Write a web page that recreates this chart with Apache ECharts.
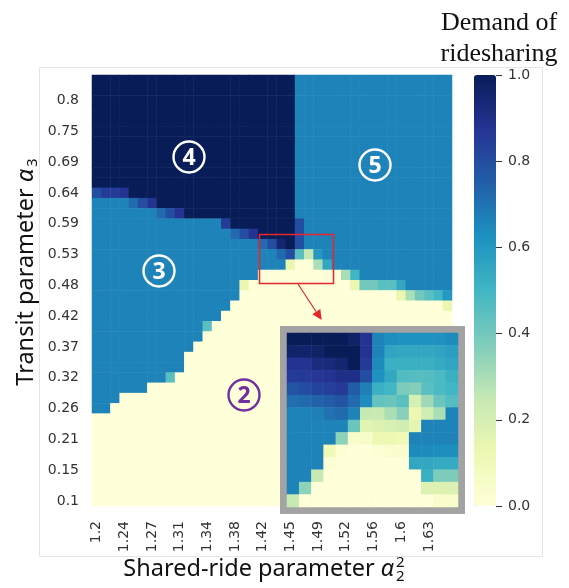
<!DOCTYPE html>
<html>
<head>
<meta charset="utf-8">
<script src="https://cdn.jsdelivr.net/npm/echarts@6/dist/echarts.min.js"></script>
<style>
  html, body { margin: 0; padding: 0; background: #fff; }
  #chart { width: 569px; height: 588px; }
</style>
</head>
<body>
<div id="chart"></div>
<script>
// tick labels
const xTickLabels = ['1.2', '1.24', '1.27', '1.31', '1.34', '1.38', '1.42', '1.45', '1.49', '1.52', '1.56', '1.6', '1.63']
const yTickLabels = ['0.1', '0.15', '0.21', '0.26', '0.32', '0.37', '0.42', '0.48', '0.53', '0.59', '0.64', '0.69', '0.75', '0.8']
const barTicks = [0, 0.2, 0.4, 0.6, 0.8, 1.0]
const nCols = 39
const nRows = 42

// YlGnBu
const ylgnbu = ['#ffffd9', '#edf8b1', '#c7e9b4', '#7fcdbb', '#41b6c4', '#1d91c0', '#225ea8', '#253494', '#081d58']

// demand level per colour code
const levelValues = {
  '0': 0, '1': 0.13, '2': 0.25, '3': 0.3, '4': 0.4, 'h': 0.45, '5': 0.5, 'q': 0.55,
  '6': 0.6, 'B': 0.66, '7': 0.72, '8': 0.8, 'D': 0.85, '9': 0.88, 'N': 0.95, 'X': 1
}

// main map, top row first; token = code + repeat count
const demandRows = [
  'X22 B17', 'X22 B17', 'X22 B17', 'X22 B17', 'X22 B17', 'X22 B17',
  'X22 B17', 'X22 B17', 'X22 B17', 'X22 B17', 'X22 B17',
  '8 D2 9 X18 B17',
  'B4 7 8 9 X15 B17',
  'B7 7 8 9 X12 B17',
  'B14 D X7 8 B16',
  'B15 7 8 9 X4 8 B16',
  'B18 7 8 N X 8 B16',
  'B20 7 8 h 2 6 B14',
  'B21 1 02 3 q B13',
  'B18 09 3 5 B10',
  'B16 1 011 1 42 h2 q B5',
  'B16 017 1 3 4 h 5 6',
  'B15 023 1',
  'B14 025',
  'B12 h 026',
  'B12 027',
  'B11 028',
  'B10 029',
  'B10 029',
  'B8 h 030',
  'B6 033',
  'B3 036',
  'B2 037',
  '039', '039', '039', '039', '039', '039', '039', '039', '039'
]

// zoomed inset, top row first
const insetRows = [
  [1, 1, 1, 1, 1, 0.97, 0.88, 0.66, 0.63, 0.62, 0.62, 0.62, 0.62, 0.64],
  [0.96, 0.96, 0.97, 1, 1, 1, 0.88, 0.66, 0.56, 0.55, 0.55, 0.55, 0.56, 0.58],
  [0.88, 0.88, 0.92, 0.93, 0.95, 1, 0.86, 0.64, 0.52, 0.52, 0.52, 0.52, 0.54, 0.56],
  [0.85, 0.86, 0.87, 0.88, 0.9, 0.9, 0.8, 0.62, 0.55, 0.47, 0.46, 0.46, 0.48, 0.52],
  [0.78, 0.8, 0.83, 0.84, 0.86, 0.76, 0.67, 0.52, 0.5, 0.38, 0.37, 0.45, 0.48, 0.5],
  [0.71, 0.72, 0.74, 0.76, 0.78, 0.72, 0.64, 0.43, 0.42, 0.45, 0.2, 0.32, 0.42, 0.46],
  [0.66, 0.66, 0.67, 0.7, 0.72, 0.66, 0.25, 0.24, 0.3, 0.36, 0.12, 0.22, 0.3, 0.66],
  [0.66, 0.66, 0.66, 0.66, 0.66, 0.42, 0.16, 0.18, 0.2, 0.22, 0.15, 0.66, 0.66, 0.66],
  [0.66, 0.66, 0.66, 0.66, 0.35, 0.04, 0.05, 0.12, 0.12, 0.1, 0.66, 0.66, 0.66, 0.66],
  [0.66, 0.66, 0.66, 0.1, 0.02, 0, 0, 0.02, 0.03, 0.03, 0.64, 0.64, 0.63, 0.63],
  [0.66, 0.66, 0.66, 0.02, 0, 0, 0, 0, 0, 0, 0.55, 0.55, 0.54, 0.54],
  [0.66, 0.66, 0.25, 0, 0, 0, 0, 0, 0, 0, 0, 0.52, 0.38, 0.38],
  [0.66, 0.35, 0, 0, 0, 0, 0, 0, 0, 0, 0, 0.18, 0.18, 0.18],
  [0.25, 0, 0, 0, 0, 0, 0, 0, 0, 0, 0, 0, 0.04, 0.04]
]

function decodeRow(s) {
  const out = []
  s.split(' ').forEach(tok => {
    const n = tok.length > 1 ? +tok.slice(1) : 1
    for (let i = 0; i < n; i++) out.push(levelValues[tok[0]])
  })
  return out
}

const demandData = []
demandRows.forEach((s, k) => {
  decodeRow(s).forEach((v, c) => demandData.push([c, nRows - 1 - k, v]))
})
const insetData = []
insetRows.forEach((row, k) => {
  row.forEach((v, c) => insetData.push([c, insetRows.length - 1 - k, v]))
})

const colIdx = Array.from({ length: nCols }, (_, i) => String(i))
const rowIdx = Array.from({ length: nRows }, (_, i) => String(i))
const insetIdx = Array.from({ length: 14 }, (_, i) => String(i))

const labelFont = { fontFamily: 'DejaVu Sans', fontSize: 14, color: '#333' }

// axis titles with math parts
const ctx = document.createElement('canvas').getContext('2d')
function textWidth(str, font) { ctx.font = font; return ctx.measureText(str).width }
const fMain = '23.5px "Noto Sans"'
const fItal = 'italic 23.5px "Noto Sans"'
const fScript = '15px "Noto Sans"'

function mathTitle(main, scripts) {
  const w1 = textWidth(main, fMain)
  const wa = textWidth('α', fItal)
  const ws = textWidth('2', fScript)
  const x0 = -(w1 + wa + 2 + ws) / 2
  const kids = [
    { type: 'text', x: x0, y: 0, style: { text: main, font: fMain, fill: '#111', align: 'left', verticalAlign: 'middle', textAlign: 'left', textVerticalAlign: 'middle' } },
    { type: 'text', x: x0 + w1, y: 0, style: { text: 'α', font: fItal, fill: '#111', align: 'left', verticalAlign: 'middle', textAlign: 'left', textVerticalAlign: 'middle' } }
  ]
  scripts.forEach(s => {
    kids.push({ type: 'text', x: x0 + w1 + wa + 2, y: s.dy, style: { text: s.t, font: fScript, fill: '#111', align: 'left', verticalAlign: 'middle', textAlign: 'left', textVerticalAlign: 'middle' } })
  })
  return kids
}

function circled(cx, cy, digit, color) {
  return {
    type: 'group', z: 100,
    children: [
      { type: 'circle', z: 100, shape: { cx: cx, cy: cy, r: 15.5 }, style: { fill: 'none', stroke: color, lineWidth: 2.4 } },
      { type: 'text', z: 101, x: cx, y: cy + 1, style: { text: digit, font: 'bold 23px "Noto Sans"', fill: color, align: 'center', verticalAlign: 'middle', textAlign: 'center', textVerticalAlign: 'middle' } }
    ]
  }
}

const myChart = echarts.init(document.getElementById('chart'), null, { renderer: 'canvas' })
myChart.setOption({
  animation: false,
  backgroundColor: '#fff',
  grid: [
    { left: 92, top: 75, width: 360, height: 431 },
    { left: 287, top: 333, width: 171, height: 174, show: true, borderColor: '#a3a3a3', borderWidth: 14, backgroundColor: 'transparent', z: 3 },
    { left: 474, top: 75, width: 22, height: 431 }
  ],
  xAxis: [
    {
      type: 'category', gridIndex: 0, data: colIdx,
      axisLine: { show: false }, axisTick: { show: false }, splitLine: { show: false },
      axisLabel: Object.assign({ rotate: 90, interval: 0, margin: 15, formatter: (v, i) => i % 3 === 0 ? xTickLabels[i / 3] : '' }, labelFont)
    },
    { type: 'category', gridIndex: 1, data: insetIdx, show: false },
    { type: 'value', gridIndex: 2, show: false, min: 0, max: 1 }
  ],
  yAxis: [
    {
      type: 'category', gridIndex: 0, data: rowIdx,
      axisLine: { show: false }, axisTick: { show: false }, splitLine: { show: false },
      axisLabel: Object.assign({ interval: 0, margin: 13, formatter: (v, i) => i % 3 === 0 ? yTickLabels[i / 3] : '' }, labelFont)
    },
    { type: 'category', gridIndex: 1, data: insetIdx, show: false },
    {
      type: 'value', gridIndex: 2, position: 'right', min: 0, max: 1, interval: 0.2,
      axisLine: { show: false, onZero: false }, splitLine: { show: false },
      axisTick: { show: true, length: 6, lineStyle: { color: '#333', width: 1 } },
      axisLabel: Object.assign({ margin: 12, formatter: v => barTicks.includes(+v.toFixed(1)) ? v.toFixed(1) : '' }, labelFont)
    }
  ],
  visualMap: {
    type: 'continuous', min: 0, max: 1, seriesIndex: [0, 1],
    left: 474, top: 75, itemWidth: 22, itemHeight: 431, padding: 0,
    calculable: false, hoverLink: false, text: null,
    inRange: { color: ylgnbu }
  },
  series: [
    { type: 'heatmap', xAxisIndex: 0, yAxisIndex: 0, data: demandData, progressive: 0, emphasis: { disabled: true }, z: 2 },
    { type: 'heatmap', xAxisIndex: 1, yAxisIndex: 1, data: insetData, progressive: 0, emphasis: { disabled: true }, z: 4 }
  ],
  graphic: [
    { type: 'rect', z: 1, shape: { x: 39.5, y: 67.5, width: 503, height: 489 }, style: { fill: 'none', stroke: '#e4e4e4', lineWidth: 1 } },
    { type: 'text', z: 100, x: 499, y: 23, style: { text: 'Demand of', font: '26px "Liberation Serif"', fill: '#111', align: 'center', verticalAlign: 'middle', textAlign: 'center', textVerticalAlign: 'middle' } },
    { type: 'text', z: 100, x: 499, y: 54, style: { text: 'ridesharing', font: '26px "Liberation Serif"', fill: '#111', align: 'center', verticalAlign: 'middle', textAlign: 'center', textVerticalAlign: 'middle' } },
    { type: 'group', z: 100, x: 264, y: 569, children: mathTitle('Shared-ride parameter ', [{ t: '2', dy: -6 }, { t: '2', dy: 8 }]) },
    { type: 'group', z: 100, x: 26, y: 272, rotation: Math.PI / 2, children: mathTitle('Transit parameter ', [{ t: '3', dy: 7 }]) },
    circled(189, 157, '4', '#fff'),
    circled(159, 271, '3', '#fff'),
    circled(375, 165, '5', '#fff'),
    circled(244, 395, '2', '#7030a0'),
    { type: 'rect', z: 100, shape: { x: 259.5, y: 234.5, width: 74, height: 49 }, style: { fill: 'none', stroke: '#e8262a', lineWidth: 1.5 } },
    { type: 'line', z: 100, shape: { x1: 298, y1: 284, x2: 316, y2: 311.5 }, style: { stroke: '#e8262a', lineWidth: 1.2 } },
    { type: 'polygon', z: 100, shape: { points: [[321.7, 320], [312.3, 314.2], [320.3, 309]] }, style: { fill: '#e8262a' } }
  ]
})
</script>
</body>
</html>
